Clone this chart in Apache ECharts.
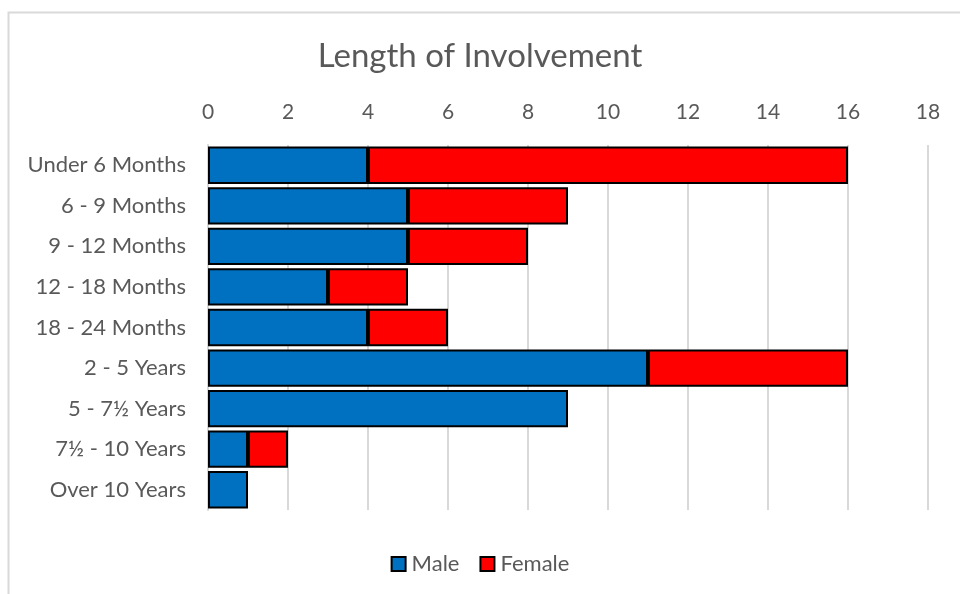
<!DOCTYPE html>
<html>
<head>
<meta charset="utf-8">
<script src="https://cdn.jsdelivr.net/npm/echarts@6/dist/echarts.min.js"></script>
<style>
  html, body { margin: 0; padding: 0; background: #fff; }
  #chart { width: 960px; height: 594px; }
</style>
</head>
<body>
<div id="chart"></div>
<script>
// Length of involvement, split by gender
const categories = [
  'Under 6 Months', '6 - 9 Months', '9 - 12 Months', '12 - 18 Months',
  '18 - 24 Months', '2 - 5 Years', '5 - 7½ Years', '7½ - 10 Years', 'Over 10 Years'
];
const maleValues = [4, 5, 5, 3, 4, 11, 9, 1, 1];
const femaleValues = [12, 4, 3, 2, 2, 5, 0, 1, 0];
const xTicks = { min: 0, max: 18, interval: 2 };

const FONT = 'Lato, "Open Sans", sans-serif';
const TEXT = '#595959';

const chart = echarts.init(document.getElementById('chart'), null, { renderer: 'canvas' });

chart.setOption({
  animation: false,
  backgroundColor: '#fff',
  graphic: [{
    type: 'rect',
    shape: { x: 8.5, y: 12.5, width: 1000, height: 700 },
    style: { fill: 'none', stroke: '#d9d9d9', lineWidth: 2 },
    silent: true
  }],
  title: {
    text: 'Length of Involvement',
    left: 'center',
    top: 35,
    textStyle: { fontFamily: FONT, fontSize: 33, fontWeight: 'normal', color: TEXT }
  },
  legend: {
    bottom: 14,
    left: 'center',
    itemWidth: 14,
    itemHeight: 14,
    itemGap: 20,
    icon: 'rect',
    textStyle: { fontFamily: FONT, fontSize: 22, color: TEXT, padding: [0, 0, 0, 1] },
    data: ['Male', 'Female']
  },
  grid: { left: 208, right: 32, top: 145, bottom: 84, containLabel: false },
  xAxis: {
    type: 'value',
    position: 'top',
    min: xTicks.min,
    max: xTicks.max,
    interval: xTicks.interval,
    axisLine: { show: false },
    axisTick: { show: false },
    axisLabel: { fontFamily: FONT, fontSize: 21, color: TEXT, margin: 22 },
    splitLine: { show: true, lineStyle: { color: '#d9d9d9', width: 2 } }
  },
  yAxis: {
    type: 'category',
    inverse: true,
    data: categories,
    axisLine: { show: true, lineStyle: { color: '#d9d9d9', width: 2 } },
    axisTick: { show: false },
    axisLabel: { fontFamily: FONT, fontSize: 22, color: TEXT, margin: 22 }
  },
  series: [
    {
      name: 'Male',
      type: 'bar',
      stack: 'total',
      barCategoryGap: '8%',
      data: maleValues,
      itemStyle: { color: '#0070c0', borderColor: '#000', borderWidth: 2 }
    },
    {
      name: 'Female',
      type: 'bar',
      stack: 'total',
      barCategoryGap: '8%',
      data: femaleValues.map(v => (v === 0 ? null : v)),
      itemStyle: { color: '#ff0000', borderColor: '#000', borderWidth: 2 }
    }
  ]
});
</script>
</body>
</html>
